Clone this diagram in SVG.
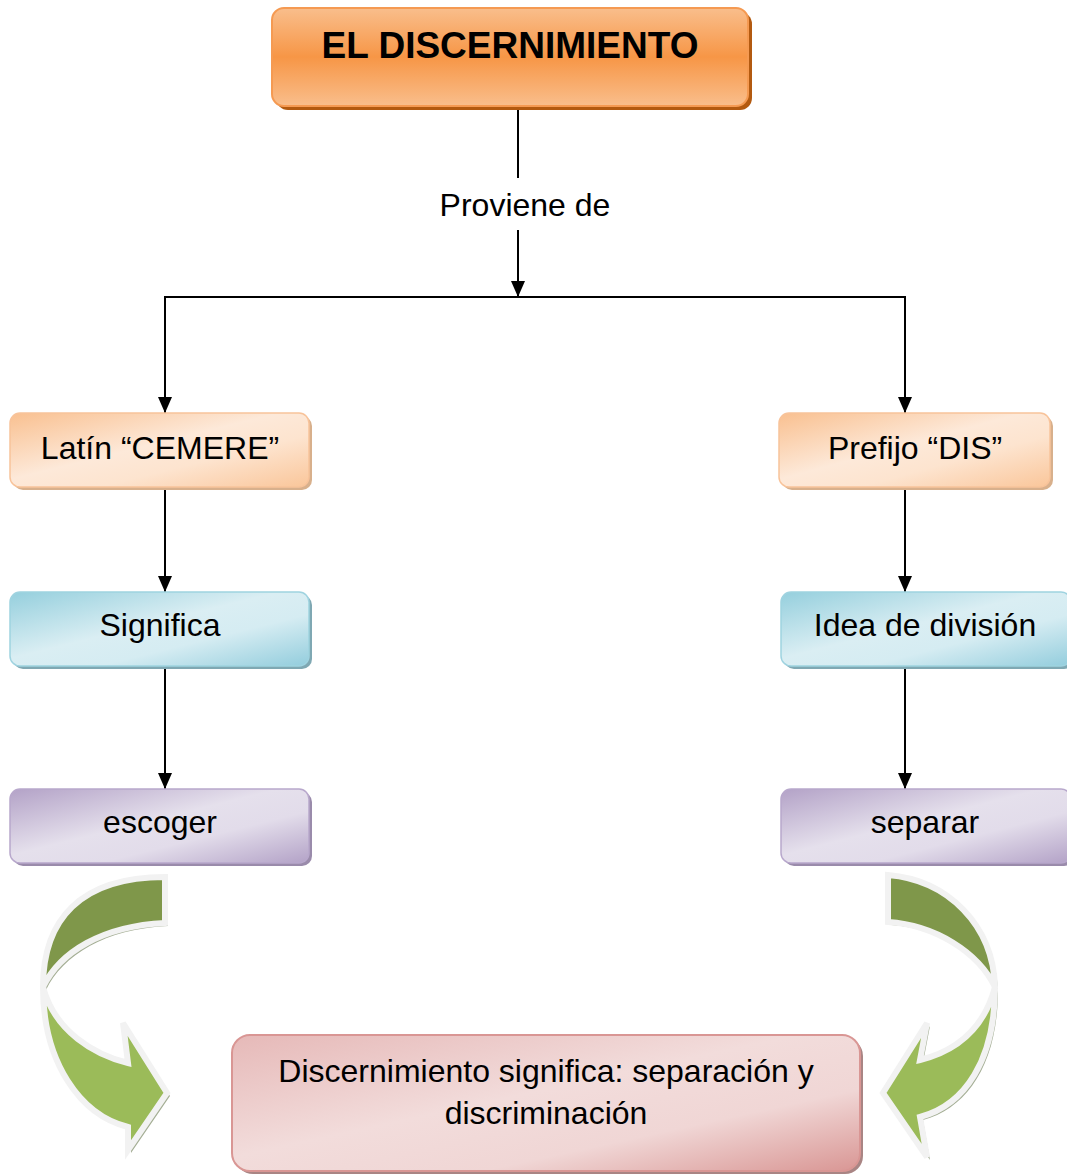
<svg xmlns="http://www.w3.org/2000/svg" width="1067" height="1176" viewBox="0 0 1067 1176">
<defs>
<linearGradient id="gTop" x1="0" y1="0" x2="0" y2="1">
<stop offset="0" stop-color="#f9be8c"/><stop offset="0.5" stop-color="#f79646"/><stop offset="1" stop-color="#f9be8c"/>
</linearGradient>
<linearGradient id="gOr" x1="0" y1="0" x2="1" y2="1">
<stop offset="0" stop-color="#f9c090"/><stop offset="0.45" stop-color="#fde9d9"/><stop offset="0.65" stop-color="#fde4cf"/><stop offset="1" stop-color="#fac69a"/>
</linearGradient>
<linearGradient id="gBl" x1="0" y1="0" x2="1" y2="1">
<stop offset="0" stop-color="#95cfdd"/><stop offset="0.45" stop-color="#daeef3"/><stop offset="0.65" stop-color="#d5ecf2"/><stop offset="1" stop-color="#93cddd"/>
</linearGradient>
<linearGradient id="gPu" x1="0" y1="0" x2="1" y2="1">
<stop offset="0" stop-color="#b3a2c7"/><stop offset="0.45" stop-color="#e5e0ec"/><stop offset="0.65" stop-color="#e2dcea"/><stop offset="1" stop-color="#b3a2c7"/>
</linearGradient>
<linearGradient id="gPk" x1="0" y1="0" x2="1" y2="1">
<stop offset="0" stop-color="#e6b9b8"/><stop offset="0.45" stop-color="#f2dcdb"/><stop offset="0.7" stop-color="#f0d6d5"/><stop offset="1" stop-color="#d99694"/>
</linearGradient>
<marker id="ah" markerWidth="16" markerHeight="14" refX="16" refY="7" orient="auto" markerUnits="userSpaceOnUse" viewBox="0 0 16 14">
<path d="M0,0 L16,7 L0,14 Z" fill="#000"/>
</marker>
<style>
.t{font-family:"Liberation Sans",Arial,sans-serif;font-size:32px;fill:#000;text-anchor:middle}
.ln{stroke:#000;stroke-width:2;fill:none}
.arw{stroke:#f2f2f2;stroke-width:6;stroke-linejoin:miter}
.sh{fill:#a4ae94}
</style>
</defs>

<g id="connectors">
<line class="ln" x1="518" y1="106" x2="518" y2="178"/>
<line class="ln" x1="518" y1="230" x2="518" y2="297" marker-end="url(#ah)"/>
<polyline class="ln" points="165,400 165,297 905,297 905,400"/>
<line class="ln" x1="165" y1="380" x2="165" y2="413" marker-end="url(#ah)"/>
<line class="ln" x1="905" y1="380" x2="905" y2="413" marker-end="url(#ah)"/>
<line class="ln" x1="165" y1="488" x2="165" y2="592" marker-end="url(#ah)"/>
<line class="ln" x1="905" y1="488" x2="905" y2="592" marker-end="url(#ah)"/>
<line class="ln" x1="165" y1="666" x2="165" y2="789" marker-end="url(#ah)"/>
<line class="ln" x1="905" y1="666" x2="905" y2="789" marker-end="url(#ah)"/>
<text class="t" x="525" y="216">Proviene de</text>
</g>

<g id="title">
<rect x="276" y="12" width="476" height="98" rx="12" fill="#b35a10"/>
<rect x="272" y="8" width="476" height="98" rx="12" fill="url(#gTop)" stroke="#f59a52" stroke-width="2"/>
<text class="t" x="510" y="58" style="font-weight:bold;font-size:37px">EL DISCERNIMIENTO</text>
</g>

<g id="latin">
<rect x="13" y="416" width="299" height="74" rx="10" fill="#d8b08c"/>
<rect x="10" y="413" width="299" height="74" rx="10" fill="url(#gOr)" stroke="#f8c39a" stroke-width="1.5"/>
<text class="t" x="160" y="459">Latín “CEMERE”</text>
</g>

<g id="prefijo">
<rect x="782" y="416" width="271" height="74" rx="10" fill="#d8b08c"/>
<rect x="779" y="413" width="271" height="74" rx="10" fill="url(#gOr)" stroke="#f8c39a" stroke-width="1.5"/>
<text class="t" x="915" y="459">Prefijo “DIS”</text>
</g>

<g id="significa">
<rect x="13" y="595" width="299" height="74" rx="10" fill="#7fa8b3"/>
<rect x="10" y="592" width="299" height="74" rx="10" fill="url(#gBl)" stroke="#9fd3e0" stroke-width="1.5"/>
<text class="t" x="160" y="636">Significa</text>
</g>

<g id="idea">
<rect x="784" y="595" width="290" height="74" rx="10" fill="#7fa8b3"/>
<rect x="781" y="592" width="290" height="74" rx="10" fill="url(#gBl)" stroke="#9fd3e0" stroke-width="1.5"/>
<text class="t" x="925" y="636">Idea de división</text>
</g>

<g id="escoger">
<rect x="13" y="792" width="299" height="74" rx="10" fill="#9a8bab"/>
<rect x="10" y="789" width="299" height="74" rx="10" fill="url(#gPu)" stroke="#b8a8cc" stroke-width="1.5"/>
<text class="t" x="160" y="833">escoger</text>
</g>

<g id="separar">
<rect x="784" y="792" width="290" height="74" rx="10" fill="#9a8bab"/>
<rect x="781" y="789" width="290" height="74" rx="10" fill="url(#gPu)" stroke="#b8a8cc" stroke-width="1.5"/>
<text class="t" x="925" y="833">separar</text>
</g>

<g id="resultado">
<rect x="235" y="1038" width="628" height="136" rx="18" fill="#a98584"/>
<rect x="232" y="1035" width="628" height="136" rx="18" fill="url(#gPk)" stroke="#d99694" stroke-width="2"/>
<text class="t" x="546" y="1082">Discernimiento significa: separación y</text>
<text class="t" x="546" y="1124">discriminación</text>
</g>

<g id="arrow-left">
<g transform="translate(3,3)" class="sh">
<path d="M165,877 C80,877 43,920 43,987 C60,952 102,926 165,923 Z"/>
<path d="M43,987 C43,1062 80,1115 128,1127 L128,1150 L167,1093 L123,1023 L128,1063 C95,1055 55,1032 43,987 Z"/>
</g>
<path class="arw" d="M43,987 C43,1062 80,1115 128,1127 L128,1150 L167,1093 L123,1023 L128,1063 C95,1055 55,1032 43,987 Z" fill="#9bbb59"/>
<path class="arw" d="M165,877 C80,877 43,920 43,987 C60,952 102,926 165,923 Z" fill="#7f974a"/>
</g>

<g id="arrow-right">
<g transform="translate(3,3)" class="sh">
<path d="M888,875 C948,880 993,925 995,987 C978,952 935,925 888,922 Z"/>
<path d="M995,987 C995,1060 965,1105 920,1117 L927,1157 L883,1093 L927,1023 L920,1060 C960,1050 985,1025 995,987 Z"/>
</g>
<path class="arw" d="M995,987 C995,1060 965,1105 920,1117 L927,1157 L883,1093 L927,1023 L920,1060 C960,1050 985,1025 995,987 Z" fill="#9bbb59"/>
<path class="arw" d="M888,875 C948,880 993,925 995,987 C978,952 935,925 888,922 Z" fill="#7f974a"/>
</g>
</svg>
